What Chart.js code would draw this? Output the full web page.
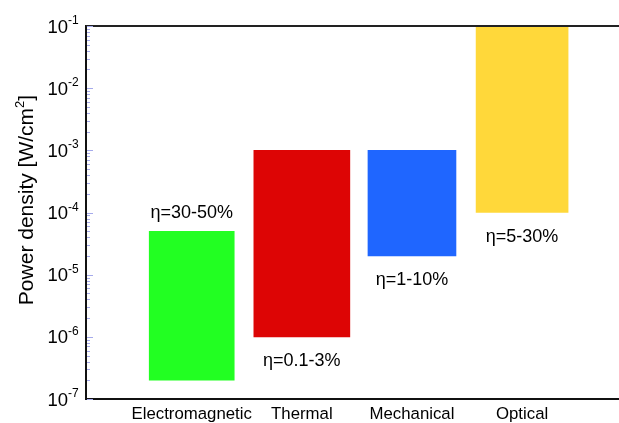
<!DOCTYPE html>
<html>
<head>
<meta charset="utf-8">
<script src="https://cdn.jsdelivr.net/npm/chart.js@4"></script>
<style>
  body { margin: 0; background: #fff; }
</style>
</head>
<body>
<canvas id="myChart" width="619" height="423"></canvas>
<script>
// categories and ranges of power density (W/cm2)
const categories = ['Electromagnetic', 'Thermal', 'Mechanical', 'Optical']
const densityLow = [2e-7, 1e-6, 2e-5, 1e-4]
const densityHigh = [5e-5, 1e-3, 1e-3, 1e-1]
const efficiency = ['\u03b7=30-50%', '\u03b7=0.1-3%', '\u03b7=1-10%', '\u03b7=5-30%']
const yExponents = [-7, -6, -5, -4, -3, -2, -1]

// styles
const barColors = ['#22FF22', '#DD0505', '#1F66FF', '#FFD83A']
const barWidths = [85, 96, 88, 92]
const labelAbove = [true, false, false, false]
const FONT = 'Liberation Sans, Arial, sans-serif'

const datasets = categories.map(function(name, i) {
  return {
    label: name,
    data: [{ x: i + 1, y: [densityLow[i], densityHigh[i]] }],
    backgroundColor: barColors[i],
    borderWidth: 0,
    barThickness: barWidths[i],
    grouped: false
  }
})

// draws top line, inner ticks, 10^n labels, axis title and eta labels
const decorations = {
  id: 'decorations',
  afterDraw(chart) {
    const ctx = chart.ctx
    const area = chart.chartArea
    const yScale = chart.scales.y
    ctx.save()

    // top frame line
    ctx.strokeStyle = '#222'
    ctx.lineWidth = 2
    ctx.beginPath()
    ctx.moveTo(area.left, area.top)
    ctx.lineTo(area.right, area.top)
    ctx.stroke()

    // inner minor/major ticks
    ctx.strokeStyle = 'rgb(165,170,235)'
    ctx.lineWidth = 1
    yExponents.forEach(function(e) {
      for (let k = 1; k <= 9; k++) {
        if (e === -1 && k > 1) break
        const py = Math.round(yScale.getPixelForValue(k * Math.pow(10, e))) + 0.5
        const len = k === 1 ? 6 : 3
        ctx.beginPath()
        ctx.moveTo(area.left + 1, py)
        ctx.lineTo(area.left + 1 + len, py)
        ctx.stroke()
      }
    })

    // tick labels 10^n
    ctx.fillStyle = '#000'
    yExponents.forEach(function(e) {
      const py = yScale.getPixelForValue(Math.pow(10, e))
      ctx.font = '18.5px ' + FONT
      ctx.textAlign = 'right'
      ctx.textBaseline = 'alphabetic'
      ctx.fillText('10', 68, py + 6.5)
      ctx.font = '12px ' + FONT
      ctx.textAlign = 'left'
      ctx.fillText(String(e), 68, py - 2)
    })

    // y axis title
    ctx.translate(33, 200)
    ctx.rotate(-Math.PI / 2)
    ctx.font = '21px ' + FONT
    const main = 'Power density [W/cm'
    const w1 = ctx.measureText(main).width
    const w3 = ctx.measureText(']').width
    ctx.font = '13px ' + FONT
    const w2 = ctx.measureText('2').width
    let x0 = -(w1 + w2 + w3) / 2
    ctx.textAlign = 'left'
    ctx.font = '21px ' + FONT
    ctx.fillText(main, x0, 0)
    ctx.font = '13px ' + FONT
    ctx.fillText('2', x0 + w1, -9)
    ctx.font = '21px ' + FONT
    ctx.fillText(']', x0 + w1 + w2, 0)
    ctx.setTransform(1, 0, 0, 1, 0, 0)

    // efficiency labels
    ctx.font = '18px ' + FONT
    ctx.textAlign = 'center'
    chart.data.datasets.forEach(function(ds, i) {
      const bar = chart.getDatasetMeta(i).data[0]
      const yTop = yScale.getPixelForValue(densityHigh[i])
      const yBot = yScale.getPixelForValue(densityLow[i])
      const py = labelAbove[i] ? yTop - 13 : yBot + 29
      ctx.fillText(efficiency[i], bar.x, py)
    })

    ctx.restore()
  }
}

const ctx = document.getElementById('myChart')

new Chart(ctx, {
  type: 'bar',
  data: { datasets: datasets },
  options: {
    responsive: false,
    animation: false,
    devicePixelRatio: 1,
    layout: { padding: { top: 26, right: 0, left: 0, bottom: 0 } },
    plugins: {
      legend: { display: false },
      tooltip: { enabled: false }
    },
    scales: {
      x: {
        type: 'linear',
        min: 0.04,
        max: 4.88,
        offset: false,
        grid: { display: false, drawTicks: false, offset: false },
        border: { display: true, color: '#111', width: 2 },
        afterBuildTicks: function(scale) {
          scale.ticks = categories.map(function(c, i) { return { value: i + 1 } })
        },
        afterFit: function(scale) { scale.height = 24 },
        ticks: {
          padding: 5,
          color: '#000',
          font: { family: FONT, size: 16.8 },
          maxRotation: 0,
          autoSkip: false,
          callback: function(v) { return categories[v - 1] }
        }
      },
      y: {
        type: 'logarithmic',
        min: 1e-7,
        max: 1e-1,
        grid: { display: false, drawTicks: false },
        border: { display: true, color: '#111', width: 2 },
        ticks: { display: false },
        afterFit: function(scale) { scale.width = 86 }
      }
    }
  },
  plugins: [decorations]
})
</script>
</body>
</html>
